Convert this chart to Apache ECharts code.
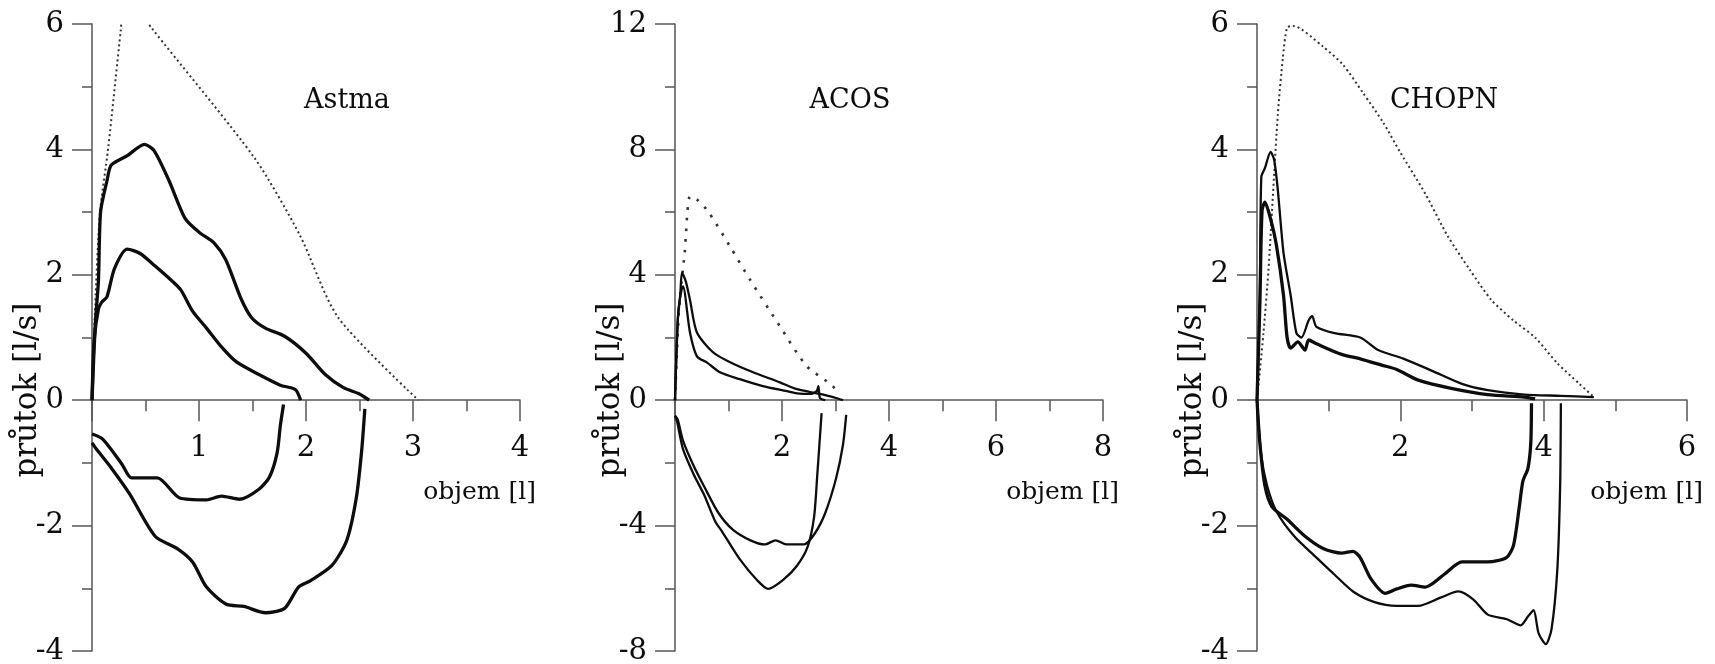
<!DOCTYPE html>
<html>
<head>
<meta charset="UTF-8">
<title>Astma / ACOS / CHOPN</title>
<script src="https://cdn.jsdelivr.net/npm/echarts@6/dist/echarts.min.js"></script>
</head>
<body style="margin:0;background:#fff;">
<div id="container" style="width:1715px;height:664px;"></div>
<script>
// panel titles and axis names
const panelTitles = ['Astma', 'ACOS', 'CHOPN'];
const xName = 'objem [l]';
const yName = 'průtok [l/s]';

// Astma: [objem, průtok]
const astmaPredicted = [[0,0],[0.03,1.5],[0.075,3.0],[0.15,4.0],[0.27,5.92],[0.31,6.5],[0.56,5.93],[1.52,3.86],[1.94,2.64],[2.3,1.32],[3.05,0]];
const astmaExpLarge = [[0,0],[0.03,1.2],[0.06,1.9],[0.08,3.0],[0.14,3.5],[0.18,3.75],[0.33,3.9],[0.49,4.08],[0.58,3.98],[0.72,3.5],[0.87,2.9],[1.0,2.68],[1.14,2.51],[1.25,2.24],[1.39,1.63],[1.49,1.32],[1.62,1.15],[1.8,1.02],[2.0,0.75],[2.18,0.41],[2.35,0.2],[2.5,0.1],[2.59,0]];
const astmaExpSmall = [[0,0],[0.02,0.95],[0.06,1.45],[0.09,1.56],[0.14,1.65],[0.21,2.1],[0.33,2.41],[0.45,2.34],[0.59,2.14],[0.73,1.93],[0.83,1.76],[0.94,1.42],[1.07,1.15],[1.21,0.85],[1.35,0.61],[1.56,0.41],[1.76,0.24],[1.9,0.17],[1.95,0]];
const astmaInspSmall = [[0,-0.54],[0.1,-0.62],[0.28,-1.02],[0.37,-1.24],[0.61,-1.24],[0.82,-1.56],[1.07,-1.59],[1.21,-1.53],[1.38,-1.58],[1.56,-1.42],[1.66,-1.22],[1.73,-0.84],[1.76,-0.41],[1.79,-0.07]];
const astmaInspLarge = [[0,-0.68],[0.05,-0.8],[0.18,-1.08],[0.35,-1.49],[0.59,-2.17],[0.8,-2.37],[0.94,-2.58],[1.07,-2.98],[1.25,-3.25],[1.42,-3.29],[1.62,-3.39],[1.8,-3.32],[1.93,-2.98],[2.04,-2.88],[2.24,-2.64],[2.38,-2.24],[2.47,-1.56],[2.52,-0.81],[2.55,-0.14]];

// ACOS
const acosPredicted = [[0,0],[0.08,3.04],[0.18,4.67],[0.28,6.5],[0.41,6.4],[0.62,6.02],[1.03,4.9],[1.4,3.85],[1.96,2.36],[2.46,1.09],[2.95,0.45],[3.04,0.14]];
const acosExpUpper = [[0,0],[0.05,2.5],[0.1,3.4],[0.13,4.07],[0.2,3.8],[0.28,3.2],[0.41,2.16],[0.71,1.53],[1.03,1.21],[1.46,0.89],[1.96,0.57],[2.28,0.35],[2.71,0.2],[3.01,0.07],[3.14,0]];
const acosExpLower = [[0,0],[0.06,2.8],[0.12,3.5],[0.15,3.63],[0.28,2.16],[0.41,1.4],[0.6,1.2],[0.84,0.89],[1.21,0.67],[1.64,0.45],[2.09,0.29],[2.28,0.22],[2.54,0.2],[2.65,0.29],[2.68,0.45],[2.71,0.07],[2.81,0]];
const acosInspShallow = [[0,-0.5],[0.05,-0.61],[0.15,-1.29],[0.35,-2.1],[0.55,-2.77],[0.81,-3.59],[1.08,-4.13],[1.41,-4.47],[1.68,-4.6],[1.88,-4.47],[2.08,-4.6],[2.41,-4.6],[2.61,-4.26],[2.81,-3.59],[3.01,-2.5],[3.14,-1.42],[3.2,-0.47]];
const acosInspDeep = [[0,-0.5],[0.03,-0.61],[0.15,-1.56],[0.35,-2.37],[0.55,-3.04],[0.75,-3.86],[0.88,-4.19],[1.21,-5.07],[1.54,-5.75],[1.74,-6.02],[2.01,-5.75],[2.28,-5.28],[2.48,-4.67],[2.6,-3.72],[2.66,-2.37],[2.71,-1.15],[2.74,-0.41]];

// CHOPN
const chopnPredicted = [[0,0],[0.09,1.07],[0.16,2.08],[0.29,4.55],[0.36,5.45],[0.42,5.94],[0.5,5.97],[0.92,5.64],[1.2,5.35],[1.48,4.9],[1.76,4.43],[2.0,3.95],[2.35,3.29],[2.66,2.62],[2.97,2.08],[3.27,1.6],[3.58,1.27],[3.88,1.0],[4.19,0.59],[4.5,0.26],[4.7,0.05]];
const chopnExpThin = [[0,0],[0.04,1.67],[0.06,3.56],[0.11,3.7],[0.19,3.96],[0.24,3.83],[0.29,3.36],[0.37,2.35],[0.47,1.67],[0.55,1.07],[0.62,1.0],[0.72,1.27],[0.77,1.34],[0.83,1.17],[1.08,1.07],[1.44,1.0],[1.69,0.8],[2.05,0.66],[2.46,0.46],[2.86,0.26],[3.22,0.16],[3.73,0.09],[4.24,0.07],[4.7,0.05]];
const chopnExpThick = [[0,0],[0.04,1.54],[0.07,3.02],[0.11,3.16],[0.19,2.89],[0.27,2.48],[0.37,1.67],[0.42,1.0],[0.47,0.83],[0.57,0.93],[0.67,0.8],[0.72,0.96],[0.83,0.9],[1.18,0.73],[1.44,0.66],[1.74,0.56],[1.95,0.49],[2.25,0.32],[2.71,0.19],[3.22,0.09],[3.73,0.05],[3.88,0.02]];
const chopnInspShort = [[0,0],[0.04,-0.69],[0.11,-1.36],[0.21,-1.7],[0.42,-1.9],[0.67,-2.17],[0.93,-2.37],[1.18,-2.44],[1.34,-2.41],[1.44,-2.51],[1.59,-2.85],[1.79,-3.08],[1.95,-3.01],[2.15,-2.95],[2.35,-2.98],[2.61,-2.78],[2.86,-2.58],[3.22,-2.58],[3.48,-2.51],[3.58,-2.31],[3.66,-1.7],[3.71,-1.29],[3.78,-1.09],[3.82,-0.69],[3.83,-0.05]];
const chopnInspLong = [[0,0],[0.06,-0.89],[0.14,-1.36],[0.27,-1.77],[0.52,-2.17],[0.83,-2.51],[1.08,-2.78],[1.34,-3.05],[1.64,-3.22],[1.95,-3.28],[2.25,-3.28],[2.56,-3.15],[2.81,-3.05],[3.02,-3.18],[3.22,-3.42],[3.48,-3.49],[3.68,-3.59],[3.78,-3.45],[3.86,-3.35],[3.93,-3.72],[4.03,-3.89],[4.11,-3.65],[4.19,-2.71],[4.23,-1.36],[4.24,-0.05]];

const FONT = '"DejaVu Serif", "Liberation Serif", serif';
const AXIS = '#555';
const INK = '#0d0d0d';

const TOP = 24, HEIGHT = 627;

const panels = [
  { left: 92,   width: 428, xMax: 4, xInt: 1, yMin: -4, yMax: 6,  yInt: 2, titleX: 347,
    curves: [[astmaPredicted, 'dot'], [astmaExpLarge, 'thick'], [astmaExpSmall, 'thick'], [astmaInspSmall, 'thick'], [astmaInspLarge, 'thick']] },
  { left: 675,  width: 428, xMax: 8, xInt: 2, yMin: -8, yMax: 12, yInt: 4, titleX: 850,
    curves: [[acosPredicted, 'sparse'], [acosExpUpper, 'thin'], [acosExpLower, 'thin'], [acosInspShallow, 'thin'], [acosInspDeep, 'thin']] },
  { left: 1257, width: 430, xMax: 6, xInt: 2, yMin: -4, yMax: 6,  yInt: 2, titleX: 1444,
    curves: [[chopnPredicted, 'dot'], [chopnExpThin, 'thin'], [chopnExpThick, 'thick'], [chopnInspShort, 'thick'], [chopnInspLong, 'thin']] }
];

const lineStyles = {
  thick:  { color: INK, width: 3.3 },
  thin:   { color: INK, width: 2.3 },
  dot:    { color: '#333', width: 2, type: [2, 3] },
  sparse: { color: '#333', width: 2.6, type: [2.6, 8] }
};

const tickStyle = { color: AXIS, width: 1.5 };

var dom = document.getElementById('container');
var myChart = echarts.init(dom, null, { renderer: 'canvas' });

var grid = [], xAxis = [], yAxis = [], series = [], graphic = [];
panels.forEach(function (p, i) {
  // plotting grid (full height) and an upper grid whose bottom edge sits at y = 0,
  // which carries the visible volume axis
  var zeroFrac = p.yMax / (p.yMax - p.yMin);
  grid.push({ left: p.left, top: TOP, width: p.width, height: HEIGHT, outerBoundsMode: 'none' });
  grid.push({ left: p.left, top: TOP, width: p.width, height: HEIGHT * zeroFrac, outerBoundsMode: 'none' });
  var g = 2 * i;

  xAxis.push({ gridIndex: g, type: 'value', min: 0, max: p.xMax, show: false });
  yAxis.push({
    gridIndex: g, type: 'value', min: p.yMin, max: p.yMax, interval: p.yInt,
    axisLine: { show: true, onZero: false, lineStyle: tickStyle },
    axisTick: { length: 20, lineStyle: tickStyle },
    minorTick: { show: true, splitNumber: 2, length: 10, lineStyle: tickStyle },
    splitLine: { show: false },
    axisLabel: { margin: 28, fontFamily: FONT, fontSize: 29, color: INK }
  });

  xAxis.push({
    gridIndex: g + 1, type: 'value', min: 0, max: p.xMax, interval: p.xInt, position: 'bottom',
    axisLine: { onZero: false, lineStyle: tickStyle },
    axisTick: { length: 21, lineStyle: tickStyle },
    minorTick: { show: true, splitNumber: 2, length: 11, lineStyle: tickStyle },
    splitLine: { show: false },
    axisLabel: { margin: 34, fontFamily: FONT, fontSize: 29, color: INK,
      formatter: function (v) { return v === 0 ? '' : String(v); } }
  });
  yAxis.push({ gridIndex: g + 1, type: 'value', min: 0, max: p.yMax, show: false });

  p.curves.forEach(function (c) {
    series.push({
      type: 'line', xAxisIndex: g, yAxisIndex: g, data: c[0],
      showSymbol: false, smooth: 0.25, clip: true, silent: true,
      lineStyle: lineStyles[c[1]]
    });
  });
  graphic.push({ type: 'text', x: p.titleX, y: 101,
    style: { text: panelTitles[i], font: '27px ' + FONT, fill: INK, align: 'center', verticalAlign: 'middle' } });
  graphic.push({ type: 'text', x: p.left - 64, y: 390, rotation: Math.PI / 2,
    style: { text: yName, font: '31px ' + FONT, fill: INK, align: 'center', verticalAlign: 'middle' } });
  graphic.push({ type: 'text', x: p.left + p.width + 16, y: 492,
    style: { text: xName, font: '25px ' + FONT, fill: INK, align: 'right', verticalAlign: 'middle' } });
});

var option = {
  backgroundColor: '#fff',
  animation: false,
  grid: grid,
  xAxis: xAxis,
  yAxis: yAxis,
  series: series,
  graphic: graphic
};

if (option && typeof option === 'object') {
  myChart.setOption(option);
}
</script>
</body>
</html>
